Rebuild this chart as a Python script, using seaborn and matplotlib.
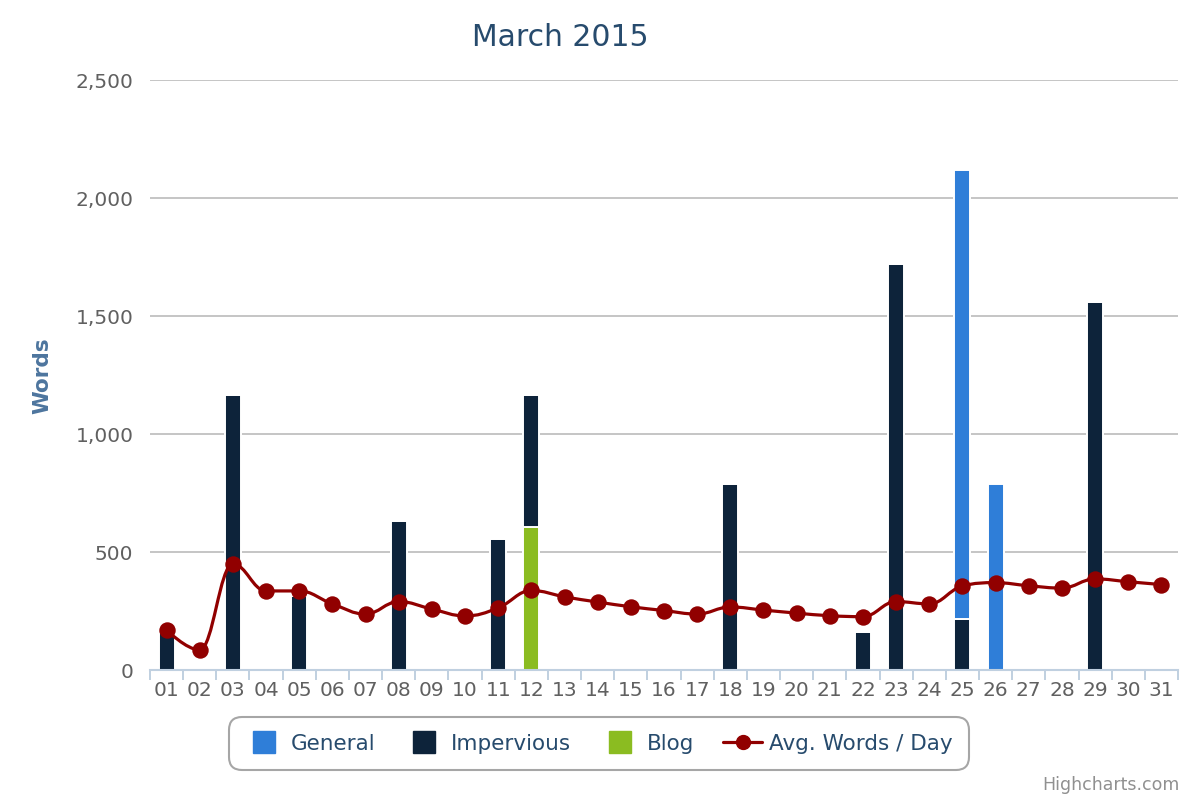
import numpy as np
import pandas as pd
import matplotlib
matplotlib.use("Agg")
import matplotlib.pyplot as plt
from matplotlib.path import Path
from matplotlib.patches import PathPatch
from matplotlib.lines import Line2D
from matplotlib.ticker import FuncFormatter, FixedLocator
import seaborn as sns

# ---------------- data ----------------
days = [f"{d:02d}" for d in range(1, 32)]
general = [0, 0, 0, 0, 0, 0, 0, 0, 0, 0, 0, 0, 0, 0, 0, 0, 0, 0, 0, 0, 0, 0, 0, 0, 1905, 790, 0, 0, 0, 0, 0]
impervious = [170, 0, 1165, 0, 315, 0, 0, 630, 0, 0, 555, 560, 0, 0, 0, 0, 0, 790, 0, 0, 0, 162, 1720, 0, 215, 0, 0, 0, 1560, 0, 0]
blog = [0, 0, 0, 0, 0, 0, 0, 0, 0, 0, 0, 605, 0, 0, 0, 0, 0, 0, 0, 0, 0, 0, 0, 0, 0, 0, 0, 0, 0, 0, 0]
avg_words = [170, 85, 449, 335, 335, 280, 237, 290, 258, 229, 263, 337, 310, 288, 268, 252, 237,
             267, 254, 241, 230, 226, 290, 280, 356, 370, 357, 347, 386, 374, 362]
y_ticks = [0, 500, 1000, 1500, 2000, 2500]

C_GENERAL = "#2f7ed8"
C_IMPERV = "#0d233a"
C_BLOG = "#8bbc21"
C_AVG = "#910000"

df = pd.DataFrame({"day": days, "General": general, "Impervious": impervious,
                   "Blog": blog, "Avg": avg_words})
df["pos"] = np.arange(len(days))

sns.set_style("white")
plt.rcParams["font.family"] = ["DejaVu Sans"]

fig = plt.figure(figsize=(12, 8), dpi=100)
ax = fig.add_axes([150 / 1200, 130 / 800, 1028 / 1200, 590 / 800])

# gridlines
ax.set_axisbelow(True)
ax.yaxis.grid(True, color="#C0C0C0", linewidth=1.3)
ax.xaxis.grid(False)

bar_w = 0.48
edge = dict(edgecolor="white", linewidth=1.4)
# stacked: Blog bottom, Impervious middle, General on top
sns.barplot(data=df, x="day", y="Blog", order=days, color=C_BLOG, width=bar_w,
            errorbar=None, ax=ax, saturation=1, zorder=2, **edge)
sns.barplot(data=df, x="day", y="Impervious", order=days, color=C_IMPERV, width=bar_w,
            errorbar=None, ax=ax, saturation=1, bottom=df["Blog"].values, zorder=2, **edge)
sns.barplot(data=df, x="day", y="General", order=days, color=C_GENERAL, width=bar_w,
            errorbar=None, ax=ax, saturation=1,
            bottom=(df["Blog"] + df["Impervious"]).values, zorder=2, **edge)


# Highcharts-style spline through the average points
def hc_spline_path(xs, ys, smoothing=1.5):
    denom = smoothing + 1
    n = len(xs)
    lc = [None] * n
    rc = [None] * n
    for i in range(1, n - 1):
        px, py = xs[i], ys[i]
        lx, ly = xs[i - 1], ys[i - 1]
        nx, ny = xs[i + 1], ys[i + 1]
        lcx = (smoothing * px + lx) / denom
        lcy = (smoothing * py + ly) / denom
        rcx = (smoothing * px + nx) / denom
        rcy = (smoothing * py + ny) / denom
        if rcx != lcx:
            corr = ((rcy - lcy) * (rcx - px)) / (rcx - lcx) + py - rcy
            lcy += corr
            rcy += corr
        if lcy > ly and lcy > py:
            lcy = max(ly, py)
            rcy = 2 * py - lcy
        elif lcy < ly and lcy < py:
            lcy = min(ly, py)
            rcy = 2 * py - lcy
        if rcy > ny and rcy > py:
            rcy = max(ny, py)
            lcy = 2 * py - rcy
        elif rcy < ny and rcy < py:
            rcy = min(ny, py)
            lcy = 2 * py - rcy
        lc[i] = (lcx, lcy)
        rc[i] = (rcx, rcy)
    verts = [(xs[0], ys[0])]
    codes = [Path.MOVETO]
    for i in range(1, n):
        c1 = rc[i - 1] if rc[i - 1] is not None else (xs[i - 1], ys[i - 1])
        c2 = lc[i] if lc[i] is not None else (xs[i], ys[i])
        verts += [c1, c2, (xs[i], ys[i])]
        codes += [Path.CURVE4] * 3
    return Path(verts, codes)


spl = hc_spline_path(df["pos"].astype(float).tolist(), df["Avg"].astype(float).tolist())
ax.add_patch(PathPatch(spl, facecolor="none", edgecolor=C_AVG, linewidth=2.3, zorder=4,
                       capstyle="round", joinstyle="round"))
sns.scatterplot(data=df, x="pos", y="Avg", color=C_AVG, s=140, edgecolor=C_AVG,
                linewidth=0, zorder=5, ax=ax, legend=False)

# axes
ax.set_xlim(-0.5, len(days) - 0.5)
ax.set_ylim(0, 2500)
ax.set_yticks(y_ticks)
ax.yaxis.set_major_formatter(FuncFormatter(lambda v, p: f"{int(v):,}"))
ax.set_xticks(range(len(days)))
ax.set_xticklabels(days)
ax.xaxis.set_minor_locator(FixedLocator(np.arange(-0.5, len(days), 1.0)))
ax.tick_params(axis="x", which="major", bottom=True, length=0, pad=8, labelsize=14.5,
               labelcolor="#606060")
ax.tick_params(axis="x", which="minor", bottom=True, length=7.5, width=1.4,
               color="#C0D0E0", direction="out")
ax.tick_params(axis="y", left=False, length=0, pad=12, labelsize=14.5, labelcolor="#606060")
ax.set_xlabel("")
ax.set_ylabel("")
for s in ["top", "right", "left"]:
    ax.spines[s].set_visible(False)
ax.spines["bottom"].set_color("#C0D0E0")
ax.spines["bottom"].set_linewidth(1.5)
ax.spines["bottom"].set_zorder(3)

# texts
fig.text(560 / 1200, 1 - 38 / 800, "March 2015", ha="center", va="center",
         fontsize=21.5, color="#274b6d")
fig.text(42 / 1200, 1 - 376 / 800, "Words", ha="center", va="center", rotation=90,
         fontsize=15.5, fontweight="bold", color="#4d759e")
fig.text(1180 / 1200, 1 - 785 / 800, "Highcharts.com", ha="right", va="center",
         fontsize=12.5, color="#909090")

# legend
handles = [
    Line2D([], [], marker="s", linestyle="", markersize=15.5, color=C_GENERAL),
    Line2D([], [], marker="s", linestyle="", markersize=15.5, color=C_IMPERV),
    Line2D([], [], marker="s", linestyle="", markersize=15.5, color=C_BLOG),
    Line2D([], [], marker="o", linestyle="-", linewidth=2.3, markersize=10, color=C_AVG),
]
labels = ["General", "Impervious", "Blog", "Avg. Words / Day"]
leg = fig.legend(handles, labels, loc="center", bbox_to_anchor=(599 / 1200, 1 - 743.5 / 800),
                 ncol=4, frameon=True, fancybox=True, fontsize=15.5, handlelength=1.8,
                 handletextpad=0.35, columnspacing=1.35, borderpad=0.75)
for t in leg.get_texts():
    t.set_color("#274b6d")
fr = leg.get_frame()
fr.set_edgecolor("#909090")
fr.set_linewidth(1.5)
fr.set_boxstyle("round,pad=0,rounding_size=0.6")

fig.savefig("out.png", dpi=100)
